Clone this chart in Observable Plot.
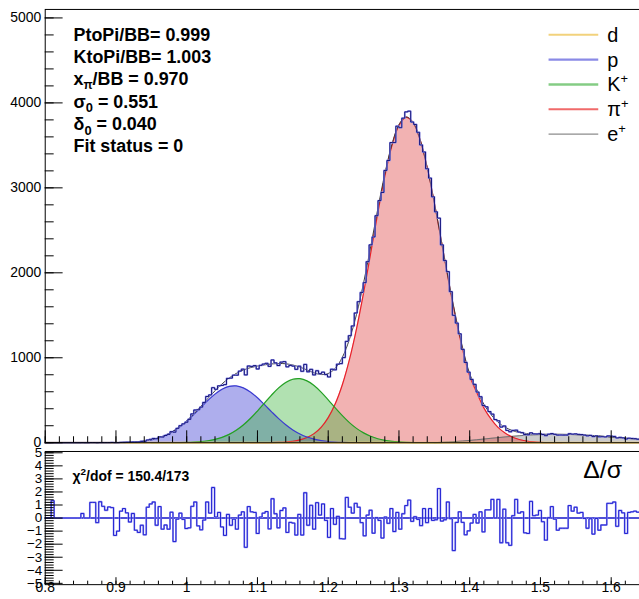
<!DOCTYPE html>
<html>
<head>
<meta charset="utf-8">
<script src="https://cdn.jsdelivr.net/npm/d3@7"></script>
<script src="https://cdn.jsdelivr.net/npm/@observablehq/plot@0.6"></script>
<style>
  html, body { margin: 0; padding: 0; background: #fff; overflow: hidden; }
  #chart { position: relative; width: 639px; height: 599px; overflow: hidden; }
  #chart svg { position: absolute; left: 0; overflow: visible; }
</style>
</head>
<body>
<div id="chart"></div>
<script>
// ---------- histogram: 200 bins of 0.0042 from 0.8 to 1.64 ----------
const binLow = 0.8;
const binWidth = 0.0042;

const counts = [
  0, 0, 1, 0, 0, 0, 0, 0, 0, 0, 0, 0,
  1, 0, 0, 2, 2, 0, 2, 2, 2, 2,
  3, 1, 1, 4, 5, 6, 6, 9, 8, 10,
  15, 16, 32, 40, 50, 47, 69, 67, 85, 98,
  130, 124, 169, 200, 222, 241, 275, 339, 385, 388,
  419, 474, 544, 563, 648, 629, 670, 674, 684, 757,
  761, 795, 795, 843, 866, 798, 903, 898, 908, 868,
  911, 926, 935, 899, 974, 940, 909, 949, 954, 893,
  910, 902, 864, 901, 841, 922, 835, 864, 798, 847,
  813, 831, 802, 774, 865, 858, 924, 931, 1002, 1193,
  1260, 1374, 1527, 1660, 1769, 1884, 2131, 2329, 2422, 2672,
  2850, 2946, 3205, 3322, 3533, 3533, 3726, 3708, 3820, 3894,
  3903, 3775, 3746, 3654, 3505, 3422, 3225, 3115, 2895, 2718,
  2644, 2329, 2144, 2014, 1778, 1500, 1408, 1282, 1099, 945,
  831, 745, 687, 596, 541, 439, 423, 367, 337, 273,
  258, 184, 197, 145, 129, 145, 148, 126, 119, 97,
  94, 117, 104, 103, 106, 97, 83, 100, 108, 99,
  90, 91, 90, 90, 106, 101, 104, 98, 96, 90,
  81, 86, 72, 81, 70, 71, 68, 80, 77, 74,
  56, 63, 58, 44, 53, 50, 48, 41
];

// normalised residuals (data - fit) / error, same bins
const pulls = [
  0, 0, 1.33, 0, 0, 0, 0, 0, 0, 0, 0, 0,
  0.35, 0, 0, 1.2, 1.2, -0.35, 1.25, 0.9, 0.6, 0.85,
  0.8, -1.33, -1.0, 0.53, 0.73, 0.4, -0.3, 0.35, -0.93, -1.1,
  -0.55, -1.28, 0.83, 1.08, 1.23, -0.55, 0.88, -0.85, -0.53, -0.85,
  0.45, -1.8, -0.08, 0.38, -0.1, -0.8, -0.75, 0.9, 1.23, -0.6,
  -0.9, -0.15, 1.23, 0.38, 2.34, 0.08, 0.43, -0.68, -1.33, 0.28,
  -0.55, -0.08, -0.85, 0.23, 0.48, -2.24, 0.88, 0.48, 0.43, -1.18,
  0.08, 0.38, 0.5, -0.83, 1.48, 0.33, -0.75, 0.58, 0.78, -1.1,
  -0.33, -0.38, -1.3, 0.28, -1.3, 1.94, -0.55, 0.98, -0.85, 1.18,
  0.23, 1.08, -0.18, -1.48, 0.73, -0.48, 0.13, -1.58, -1.6, 1.58,
  0.83, 0.38, 1.13, 0.83, -0.35, -1.36, 0.23, 0.6, -1.16, 0.03,
  -0.18, -1.53, 0.08, -0.4, 0.73, -1.03, 0.43, -0.85, 0.33, 0.96,
  1.38, -0.25, 0.1, -0.1, -0.58, 0.73, -0.35, 0.73, -0.18, -0.13,
  2.26, -0.23, -0.13, 1.23, -0.05, -2.49, -0.33, 0.48, -0.33, -1.28,
  -0.98, -0.38, 0.28, -0.38, 0.48, -1.06, 0.63, 0.63, 1.43, 0,
  1.43, -1.89, 0.68, -1.89, -2.09, 0.18, 1.43, 0.38, 0.48, -1.13,
  -1.18, 1.28, 0.18, 0.23, 0.58, -0.28, -1.69, 0.03, 0.88, -0.08,
  -0.93, -0.78, -0.78, -0.78, 0.96, 0.53, 0.83, 0.38, 0.43, -0.03,
  -0.78, -0.05, -1.23, -0.03, -0.93, -0.53, -0.53, 1.13, 1.13, 1.23,
  -0.63, 0.58, 0.4, -1.18, 0.43, 0.48, 0.53, 0.45
];

// ---------- fitted particle components, sampled every 0.01 ----------
const sampleStep = 0.01;
const protonStart = 0.85;
const proton = [0, 0.1, 0.15, 0.3, 0.7, 1.6, 3.2, 6.2, 11.4, 20, 34, 56, 87, 130, 185, 253, 331, 415, 498, 572,
  629, 663, 669, 646, 598, 529, 448, 364, 283, 211, 150, 103, 67, 42, 25, 14.4, 7.9, 4.2, 2.1, 1.0, 0.5, 0.2, 0.1, 0];
const kaonStart = 0.95;
const kaon = [0.1, 0.2, 0.3, 0.8, 1.8, 3.6, 7.0, 12.8, 23, 39, 63, 98, 146, 209, 285, 373, 467, 561, 645, 709,
  747, 754, 728, 673, 596, 505, 410, 319, 237, 169, 116, 76, 47, 28, 16, 9, 4.7, 2.3, 1.1, 0.5, 0.2, 0];
const pionStart = 1.09;
const pion = [0, 0.4, 0.9, 1.9, 4.2, 8.7, 17.3, 33, 61, 107, 181, 295, 458, 682, 977, 1340, 1764, 2228, 2700, 3135,
  3494, 3735, 3830, 3768, 3563, 3237, 2825, 2370, 1909, 1478, 1097, 785, 590, 410, 280, 180, 115, 68, 38, 20,
  10, 5, 2, 1, 0];
const electronStart = 1.35;
const electron = [0, 5, 9, 14, 20, 27, 35, 43, 52, 60, 68, 75, 82, 88, 92, 95, 97, 98, 98, 97,
  95, 90, 86, 80, 74, 67, 60, 53, 46, 40];
const deuteronX = [0.8, 1.0, 1.2, 1.4, 1.64];
const deuteron = [0.6, 0.6, 0.5, 0.5, 0.4];

// ---------- text ----------
const fitLines = [
  [{text: "PtoPi/BB= 0.999"}],
  [{text: "KtoPi/BB= 1.003"}],
  [{text: "x"}, {text: "π", dy: 4, size: 12}, {text: "/BB = 0.970"}],
  [{text: "σ"}, {text: "0", dy: 5, size: 13}, {text: " = 0.551"}],
  [{text: "δ"}, {text: "0", dy: 5, size: 13}, {text: " = 0.040"}],
  [{text: "Fit status = 0"}]
];
const legendNames = ["d", "p", "K", "π", "e"];
const legendSup = ["", "", "+", "+", "+"];
const legendColors = ["#f2d27c", "#8a8ae6", "#84cc84", "#f06a6a", "#8c8c8c"];
const legendWidths = [2, 2.5, 2.5, 2, 1.2];
const chi2Text = [{text: "χ"}, {text: "2", dy: -6, size: 10}, {text: "/dof = 150.4/173"}];
const pullTitle = "Δ/σ";

const countTicks = [0, 1000, 2000, 3000, 4000, 5000];
const pullTicks = [-5, -4, -3, -2, -1, 0, 1, 2, 3, 4, 5];
const xTicks = [0.8, 0.9, 1.0, 1.1, 1.2, 1.3, 1.4, 1.5, 1.6];
const xTickLabels = ["0.8", "0.9", "1", "1.1", "1.2", "1.3", "1.4", "1.5", "1.6"];

// ---------- derived tables ----------
const FONT = '"Liberation Sans", Arial, Helvetica, sans-serif';
const W = 643, ML = 45;
const frameW = W - ML;
const toPoints = (start, values) => values.map((y, i) => ({x: +(start + i * sampleStep).toFixed(4), y}));
const protonPts = toPoints(protonStart, proton);
const kaonPts = toPoints(kaonStart, kaon);
const pionPts = toPoints(pionStart, pion);
const electronPts = toPoints(electronStart, electron);
const deuteronPts = deuteronX.map((x, i) => ({x, y: deuteron[i]}));

const lookup = (start, values, x) => {
  const i = Math.round((x - start) / sampleStep);
  return i >= 0 && i < values.length ? values[i] : 0;
};
const totalPts = d3.range(0, 85).map(i => {
  const x = +(0.8 + i * sampleStep).toFixed(4);
  return {
    x,
    y: lookup(protonStart, proton, x) + lookup(kaonStart, kaon, x) + lookup(pionStart, pion, x) +
       lookup(electronStart, electron, x) + 0.5
  };
});

const steps = values => values.flatMap((v, k) => {
  const lo = binLow + k * binWidth;
  return [{x: lo, y: v}, {x: lo + binWidth, y: v}];
});
const histPts = steps(counts);
const pullPts = steps(pulls);

const xMinor = d3.range(0, 43).map(i => +(0.8 + i * 0.02).toFixed(3));
const countMinor = d3.range(0, 26).map(i => i * 200);
const pullMinor = d3.range(-25, 26).map(i => +(i * 0.2).toFixed(2));

// ---------- upper panel: spectrum with fitted components ----------
const upperH = 449, upperTop = 9, upperBottom = 4;
const upperFrameH = upperH - upperTop - upperBottom;
const upper = Plot.plot({
  width: W, height: upperH,
  marginLeft: ML, marginRight: 0, marginTop: upperTop, marginBottom: upperBottom,
  x: {domain: [0.8, 1.64], axis: null},
  y: {domain: [0, 5100], axis: null},
  style: {fontFamily: FONT, fontSize: "14px", background: "transparent", color: "#000", overflow: "visible"},
  marks: [
    Plot.areaY(electronPts, {x: "x", y: "y", fill: "#9a9a9a", fillOpacity: 0.5, curve: "catmull-rom"}),
    Plot.areaY(pionPts, {x: "x", y: "y", fill: "#e04848", fillOpacity: 0.42, curve: "catmull-rom"}),
    Plot.areaY(protonPts, {x: "x", y: "y", fill: "#4b4bd6", fillOpacity: 0.45, curve: "catmull-rom"}),
    Plot.areaY(kaonPts, {x: "x", y: "y", fill: "#3cb43c", fillOpacity: 0.4, curve: "catmull-rom"}),
    Plot.lineY(electronPts, {x: "x", y: "y", stroke: "#707070", strokeWidth: 1, curve: "catmull-rom"}),
    Plot.lineY(pionPts, {x: "x", y: "y", stroke: "#e8202a", strokeWidth: 1.2, curve: "catmull-rom"}),
    Plot.lineY(protonPts, {x: "x", y: "y", stroke: "#3a3ad0", strokeWidth: 1.2, curve: "catmull-rom"}),
    Plot.lineY(kaonPts, {x: "x", y: "y", stroke: "#24a024", strokeWidth: 1.2, curve: "catmull-rom"}),
    Plot.lineY(deuteronPts, {x: "x", y: "y", stroke: "#f2cc6c", strokeWidth: 2}),
    Plot.lineY(totalPts, {x: "x", y: "y", stroke: "#3a3a3a", strokeWidth: 1, curve: "catmull-rom"}),
    Plot.line(histPts, {x: "x", y: "y", stroke: "#9c9cf0", strokeWidth: 1.8}),
    Plot.line(histPts, {x: "x", y: "y", stroke: "#14147a", strokeWidth: 1}),
    // inward ticks
    Plot.tickY(countMinor, {y: d => d, stroke: "#000", insetRight: frameW - 9}),
    Plot.tickY(countTicks, {y: d => d, stroke: "#000", insetRight: frameW - 18}),
    Plot.tickX(xMinor, {x: d => d, stroke: "#000", insetTop: upperFrameH - 6}),
    Plot.tickX(xTicks, {x: d => d, stroke: "#000", insetTop: upperFrameH - 12}),
    Plot.frame({stroke: "#000", strokeWidth: 1}),
    Plot.text(countTicks, {y: d => d, text: d => String(d), frameAnchor: "left", dx: -4, textAnchor: "end",
      fontSize: 14, fill: "#000"})
  ]
});

// ---------- lower panel: residuals ----------
const lowerH = 150, lowerTop = 2, lowerBottom = 14;
const lowerFrameH = lowerH - lowerTop - lowerBottom;
const lower = Plot.plot({
  width: W, height: lowerH,
  marginLeft: ML, marginRight: 0, marginTop: lowerTop, marginBottom: lowerBottom,
  x: {domain: [0.8, 1.64], axis: null},
  y: {domain: [-5.1, 5.1], axis: null},
  style: {fontFamily: FONT, fontSize: "14px", background: "transparent", color: "#000", overflow: "visible"},
  marks: [
    Plot.ruleY([0], {stroke: "#1616c8", strokeWidth: 1.5}),
    Plot.line(pullPts, {x: "x", y: "y", stroke: "#9c9cf4", strokeWidth: 1.8}),
    Plot.line(pullPts, {x: "x", y: "y", stroke: "#2020d2", strokeWidth: 1}),
    Plot.tickY(pullMinor, {y: d => d, stroke: "#000", insetRight: frameW - 9}),
    Plot.tickY(pullTicks, {y: d => d, stroke: "#000", insetRight: frameW - 18}),
    Plot.tickX(xMinor, {x: d => d, stroke: "#000", insetTop: lowerFrameH - 3.5}),
    Plot.tickX(xTicks, {x: d => d, stroke: "#000", insetTop: lowerFrameH - 7}),
    Plot.frame({stroke: "#000", strokeWidth: 1}),
    Plot.text(pullTicks, {y: d => d, text: d => d3.format("")(d).replace("-", "−"), frameAnchor: "left", dx: -3,
      textAnchor: "end", fontSize: 13.5, fill: "#000"}),
    Plot.text(xTicks, {x: d => d, text: (d, i) => xTickLabels[i], frameAnchor: "bottom", dy: 7,
      fontSize: 14, fill: "#000"})
  ]
});

// ---------- rich text helpers ----------
function richText(parent, x, y, parts, opts) {
  const t = parent.append("text")
    .attr("x", x).attr("y", y)
    .attr("font-family", FONT)
    .attr("font-size", opts.size)
    .attr("font-weight", opts.weight || "normal")
    .attr("text-anchor", opts.anchor || "start")
    .attr("fill", "#000");
  let shift = 0;
  for (const p of parts) {
    const target = p.dy || 0;
    const s = t.append("tspan").text(p.text).attr("dy", target - shift);
    if (p.size) s.attr("font-size", p.size);
    shift = target;
  }
  return t;
}

const up = d3.select(upper);
const notes = up.append("g");
fitLines.forEach((parts, i) => richText(notes, 74, 41 + i * 22.4, parts, {size: 18, weight: "bold"}));

const legend = up.append("g");
legendNames.forEach((name, i) => {
  const y = 35 + i * 25;
  legend.append("line").attr("x1", 552).attr("x2", 602).attr("y1", y).attr("y2", y)
    .attr("stroke", legendColors[i]).attr("stroke-width", legendWidths[i]);
  const parts = [{text: name}];
  if (legendSup[i]) parts.push({text: legendSup[i], dy: -8, size: 13});
  richText(legend, 611, y + 7, parts, {size: 20});
});

const lo = d3.select(lower);
richText(lo, 73, 32, chi2Text, {size: 14, weight: "bold"});
richText(lo, 626, 29, [{text: pullTitle}], {size: 25, anchor: "end"});

const chart = document.getElementById("chart");
upper.style.top = "0px";
lower.style.top = "449px";
chart.append(upper, lower);
</script>
</body>
</html>
